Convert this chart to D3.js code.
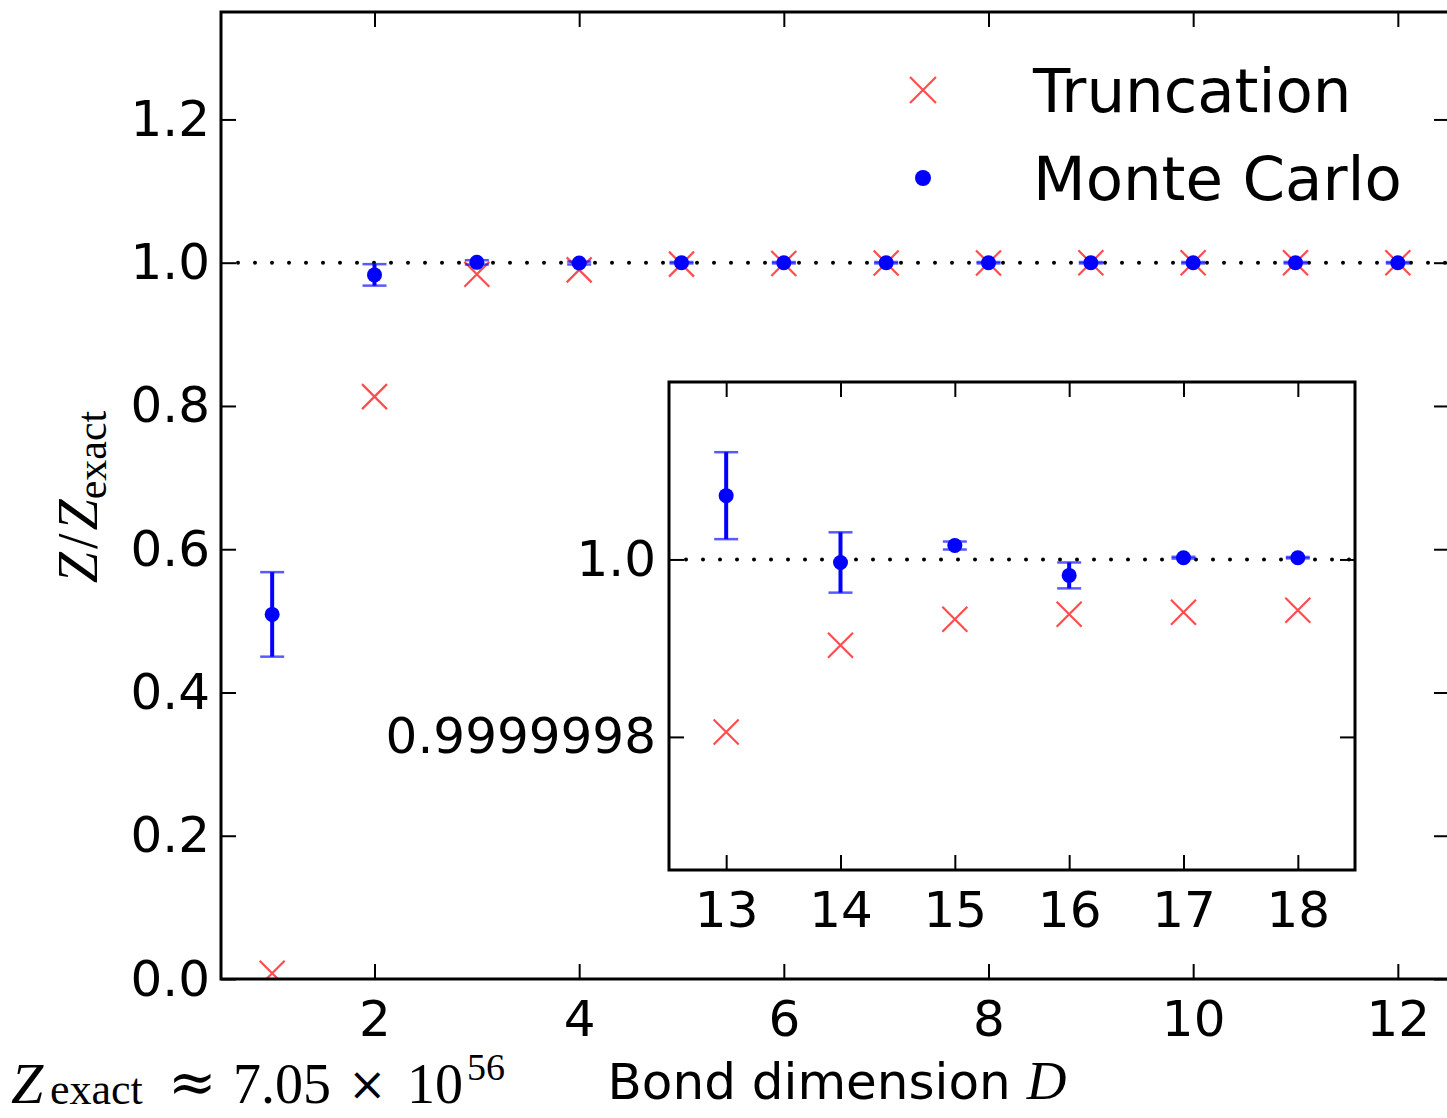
<!DOCTYPE html>
<html>
<head>
<meta charset="utf-8">
<script src="https://cdn.jsdelivr.net/npm/d3@7/dist/d3.min.js"></script>
<style>
  html, body { margin: 0; padding: 0; background: #fff; }
  svg { display: block; }
  text { font-family: "DejaVu Sans", sans-serif; fill: #000; }
  .serif { font-family: "Liberation Serif", "DejaVu Serif", serif; }
  .sym { font-family: "DejaVu Serif", serif; }
</style>
</head>
<body>
<script>
// ---------------- data ----------------
const mainD = [1, 2, 3, 4, 5, 6, 7, 8, 9, 10, 11, 12];
const mainTrunc = [0.008, 0.813, 0.984, 0.990, 0.998, 0.999, 0.9995, 0.9997, 0.9998, 0.9999, 0.99995, 1.0];
const mainMC = [0.509, 0.983, 1.0005, 0.9995, 1.0, 1.0, 1.0, 1.0, 1.0, 1.0, 1.0, 1.0];
const mainMCErr = [0.059, 0.015, 0.003, 0.002, 0.001, 0.001, 0.001, 0.001, 0.001, 0.001, 0.001, 0.001];

const insetD = [13, 14, 15, 16, 17, 18];
const insetTrunc = [0.99999980560, 0.99999990340, 0.99999993260, 0.99999993820, 0.99999994040, 0.99999994270];
const insetMC = [1.00000007190, 0.99999999660, 1.00000001570, 0.99999998200, 1.00000000200, 1.00000000200];
const insetMCErr = [0.0000000490, 0.0000000340, 0.0000000045, 0.0000000146, 0.0000000010, 0.0000000008];

const mainXTicks = [2, 4, 6, 8, 10, 12];
const mainYTicks = [0.0, 0.2, 0.4, 0.6, 0.8, 1.0, 1.2];
const mainYTickLabels = ["0.0", "0.2", "0.4", "0.6", "0.8", "1.0", "1.2"];
const insetXTicks = [13, 14, 15, 16, 17, 18];
const insetYTicks = [0.9999998, 1.0];
const insetYTickLabels = ["0.9999998", "1.0"];
const legendLabels = ["Truncation", "Monte Carlo"];

// ---------------- layout ----------------
const W = 1447, H = 1118;
const svg = d3.select("body").append("svg").attr("width", W).attr("height", H);

const RED = "rgba(255,0,0,0.7)";
const BLUE = "#0000ff";

function drawPanel(g, x, y, xTicks, yTicks, yLabels, padY, refY, D, trunc, mc, err) {
  const [x0, x1] = x.range();
  const [y0, y1] = y.range(); // y0 bottom, y1 top
  g.append("clipPath").attr("id", "clip" + Math.round(x0))
    .append("rect").attr("x", x0).attr("y", y1).attr("width", x1 - x0).attr("height", y0 - y1);

  // reference dotted line
  g.append("line")
    .attr("x1", x0 + 17).attr("x2", x1).attr("y1", y(refY)).attr("y2", y(refY))
    .attr("stroke", "#000").attr("stroke-width", 4)
    .attr("stroke-linecap", "round").attr("stroke-dasharray", "0,17");

  // axes
  const ax = d3.axisBottom(x).tickValues(xTicks).tickSizeInner(-15).tickSizeOuter(0).tickPadding(21)
    .tickFormat(d3.format("d"));
  const gx = g.append("g").attr("transform", `translate(0,${y0})`).call(ax);
  const axTop = d3.axisTop(x).tickValues(xTicks).tickSizeInner(-15).tickSizeOuter(0).tickFormat("");
  const gxt = g.append("g").attr("transform", `translate(0,${y1})`).call(axTop);
  const ay = d3.axisLeft(y).tickValues(yTicks).tickSizeInner(-15).tickSizeOuter(0).tickPadding(padY)
    .tickFormat((d, i) => yLabels[i]);
  const gy = g.append("g").attr("transform", `translate(${x0},0)`).call(ay);
  const ayr = d3.axisRight(y).tickValues(yTicks).tickSizeInner(-15).tickSizeOuter(0).tickFormat("");
  const gyr = g.append("g").attr("transform", `translate(${x1},0)`).call(ayr);
  [gx, gxt, gy, gyr].forEach(a => {
    a.select(".domain").remove();
    a.selectAll(".tick line").attr("stroke", "#000").attr("stroke-width", 2);
    a.selectAll("text").attr("font-size", 50).attr("font-family", "DejaVu Sans").attr("fill", "#000");
  });

  const data = D.map((d, i) => ({ d, t: trunc[i], m: mc[i], e: err[i] }));
  const pts = g.append("g").attr("clip-path", `url(#clip${Math.round(x0)})`);

  // truncation crosses
  const s = 12.5;
  pts.selectAll(".cross").data(data).join("path")
    .attr("class", "cross")
    .attr("d", p => {
      const cx = x(p.d), cy = y(p.t);
      return `M${cx - s},${cy - s}L${cx + s},${cy + s}M${cx - s},${cy + s}L${cx + s},${cy - s}`;
    })
    .attr("stroke", RED).attr("stroke-width", 2.2).attr("fill", "none");

  // error bars
  pts.selectAll(".eb").data(data).join("line")
    .attr("class", "eb")
    .attr("x1", p => x(p.d)).attr("x2", p => x(p.d))
    .attr("y1", p => y(p.m - p.e)).attr("y2", p => y(p.m + p.e))
    .attr("stroke", BLUE).attr("stroke-width", 4);
  const caps = [];
  data.forEach(p => { caps.push({ d: p.d, v: p.m - p.e }); caps.push({ d: p.d, v: p.m + p.e }); });
  pts.selectAll(".cap").data(caps).join("line")
    .attr("class", "cap")
    .attr("x1", c => x(c.d) - 12).attr("x2", c => x(c.d) + 12)
    .attr("y1", c => y(c.v)).attr("y2", c => y(c.v))
    .attr("stroke", BLUE).attr("stroke-opacity", 0.65).attr("stroke-width", 2.5);
  pts.selectAll(".dot").data(data).join("circle")
    .attr("class", "dot")
    .attr("cx", p => x(p.d)).attr("cy", p => y(p.m)).attr("r", 7.5)
    .attr("fill", BLUE);

  // frame
  g.append("rect").attr("x", x0).attr("y", y1).attr("width", x1 - x0).attr("height", y0 - y1)
    .attr("fill", "none").attr("stroke", "#000").attr("stroke-width", 3);
}

// ---------------- main panel ----------------
const xMain = d3.scaleLinear().domain([0.5, 12.5]).range([221, 1449]);
const yMain = d3.scaleLinear().domain([0, 1.35]).range([979, 12]);
const gMain = svg.append("g");
drawPanel(gMain, xMain, yMain, mainXTicks, mainYTicks, mainYTickLabels, 11, 1.0,
  mainD, mainTrunc, mainMC, mainMCErr);

// legend
const lg = svg.append("g");
const lx = 923;
[90, 178].forEach((ly, i) => {
  if (i === 0) {
    lg.append("path")
      .attr("d", `M${lx - 13},${ly - 13}L${lx + 13},${ly + 13}M${lx - 13},${ly + 13}L${lx + 13},${ly - 13}`)
      .attr("stroke", RED).attr("stroke-width", 2.2).attr("fill", "none");
  } else {
    lg.append("circle").attr("cx", lx).attr("cy", ly).attr("r", 8).attr("fill", BLUE);
  }
  lg.append("text").attr("x", 1033).attr("y", ly + 22).attr("font-size", 61).text(legendLabels[i]);
});

// ---------------- inset panel ----------------
const xIn = d3.scaleLinear().domain([12.5, 18.5]).range([669, 1355]);
const yIn = d3.scaleLinear().domain([0.99999965, 1.0000002]).range([870, 382]);
const gIn = svg.append("g");
gIn.append("rect").attr("x", 669).attr("y", 382).attr("width", 686).attr("height", 488).attr("fill", "#fff");
drawPanel(gIn, xIn, yIn, insetXTicks, insetYTicks, insetYTickLabels, 13, 1.0,
  insetD, insetTrunc, insetMC, insetMCErr);

// ---------------- labels ----------------
const yl = svg.append("text").attr("class", "serif")
  .attr("transform", "translate(97,497) rotate(-90)")
  .attr("text-anchor", "middle").attr("font-size", 56);
yl.append("tspan").attr("font-style", "italic").text("Z");
yl.append("tspan").attr("dx", 3).text("/");
yl.append("tspan").attr("dx", 3).attr("font-style", "italic").text("Z");
yl.append("tspan").attr("font-size", 42).attr("dy", 9).text("exact");

const xl = svg.append("text").attr("x", 837).attr("y", 1099).attr("text-anchor", "middle").attr("font-size", 50);
xl.append("tspan").text("Bond dimension ");
xl.append("tspan").attr("class", "serif").attr("font-style", "italic").attr("font-size", 55).text("D");

// Z_exact ≈ 7.05 × 10^56 (pieces placed individually)
const zg = svg.append("g");
const zt = (x, y, size, txt, italic, cls) => zg.append("text").attr("class", cls || "serif")
  .attr("x", x).attr("y", y).attr("font-size", size)
  .attr("font-style", italic ? "italic" : "normal").text(txt);
zt(11, 1103, 58, "Z", true);
zt(50, 1104, 44, "exact", false);
zt(168, 1102, 58, "\u2248", false, "sym");
zt(348, 1100, 46, "\u00d7", false, "sym");
zt(233, 1103, 56, "7.05", false);
zt(407, 1103, 56, "10", false);
zt(467, 1080, 38, "56", false);
</script>
</body>
</html>
